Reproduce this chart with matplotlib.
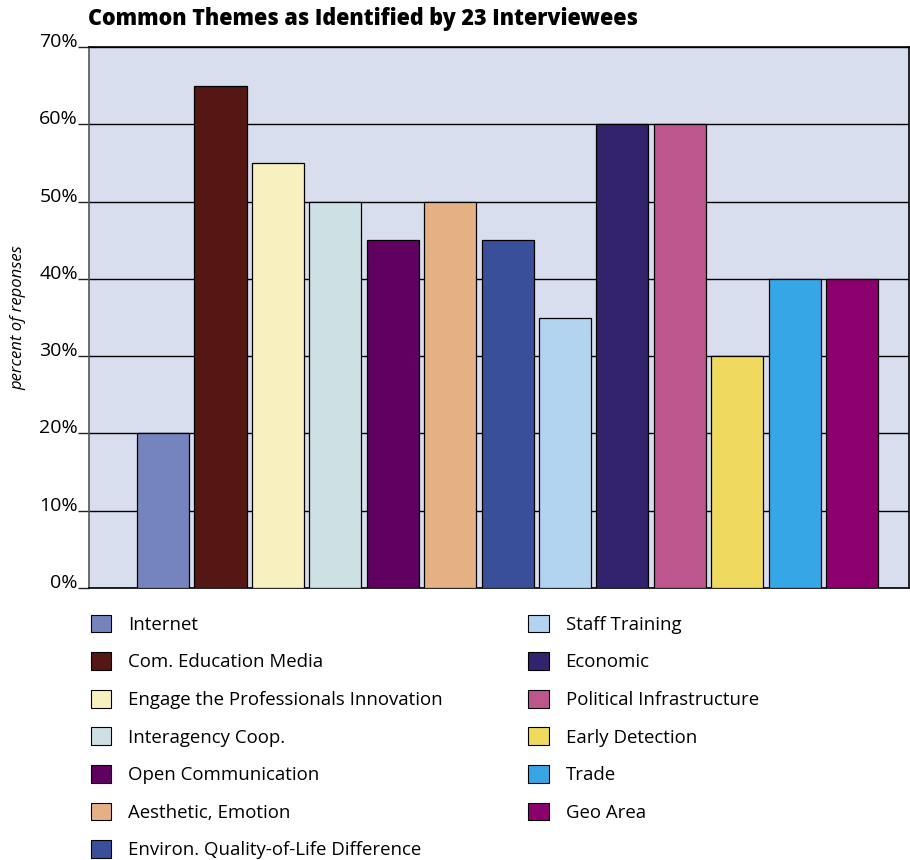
import matplotlib
matplotlib.use('Agg')
import matplotlib.pyplot as plt
from matplotlib.patches import Patch

plt.rcParams['font.family'] = ['Open Sans', 'DejaVu Sans']

themes = ['Internet', 'Com. Education Media', 'Engage the Professionals Innovation',
          'Interagency Coop.', 'Open Communication', 'Aesthetic, Emotion',
          'Environ. Quality-of-Life Difference', 'Staff Training', 'Economic',
          'Political Infrastructure', 'Early Detection', 'Trade', 'Geo Area']
percent = [20, 65, 55, 50, 45, 50, 45, 35, 60, 60, 30, 40, 40]
colors = ['#7584BF', '#551713', '#F9F0C0', '#CDE0E3', '#600060', '#E5B084',
          '#3A4F9A', '#B3D4F0', '#33226E', '#BC568D', '#EFD95E', '#36A6E6', '#8C006E']
yticks = [0, 10, 20, 30, 40, 50, 60, 70]
ytick_labels = ['0%', '10%', '20%', '30%', '40%', '50%', '60%', '70%']

fig = plt.figure(figsize=(9.1, 8.6), dpi=100)
ax = fig.add_axes([0.0978, 0.3163, 0.9011, 0.629])
ax.set_facecolor('#D8DEEE')

x = list(range(len(percent)))
ax.bar(x, percent, width=0.906, color=colors, edgecolor='black', linewidth=0.9, zorder=3)

ax.set_xlim(-1.29, 12.99)
ax.set_ylim(0, 70)
ax.set_xticks([])
ax.set_yticks(yticks)
ax.set_yticklabels(ytick_labels, fontsize=14)
for lbl in ax.get_yticklabels():
    lbl.set_verticalalignment('baseline')
ax.tick_params(axis='y', length=8, width=1, pad=0, colors='#222222', labelcolor='black')
ax.grid(axis='y', color='black', linewidth=1, zorder=0)

for side in ['top', 'right', 'bottom']:
    ax.spines[side].set_color('black')
    ax.spines[side].set_linewidth(1.2)
ax.spines['left'].set_color('#555555')
ax.spines['left'].set_linewidth(1.2)

ax.set_ylabel('percent of reponses', fontsize=12, fontstyle='italic', labelpad=9)

fig.text(0.0967, 0.964, 'Common Themes as Identified by 23 Interviewees',
         fontsize=15.5, fontweight='heavy', ha='left', va='bottom')

handles = [Patch(facecolor=c, edgecolor='black', linewidth=0.8) for c in colors]
fig.legend(handles, themes, ncol=2, loc='upper left', bbox_to_anchor=(0.09, 0.296),
           frameon=False, fontsize=13.4, borderpad=0, handlelength=1.08,
           handleheight=1.08, handletextpad=0.91, labelspacing=0.99, columnspacing=4.6)

fig.savefig('out.png', dpi=100)
